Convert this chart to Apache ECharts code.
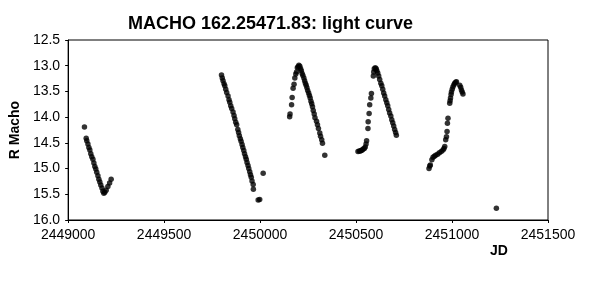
<!DOCTYPE html>
<html>
<head>
<meta charset="utf-8">
<script src="https://cdn.jsdelivr.net/npm/echarts@6/dist/echarts.min.js"></script>
<style>
html,body{margin:0;padding:0;background:#fff;}
#chart{width:589px;height:294px;}
</style>
</head>
<body>
<div id="chart"></div>
<script>
// Season 1
var s1Jd  = [2449085,2449094,2449097,2449103,2449108,2449113,2449118,2449123,2449129,2449134,2449139,2449144,2449149,2449155,2449160,2449165,2449170,2449176,2449181,2449186,2449191,2449198,2449207,2449216,2449224];
var s1Mag = [14.19,14.41,14.46,14.52,14.59,14.64,14.71,14.77,14.82,14.89,14.96,15.01,15.07,15.14,15.21,15.26,15.32,15.38,15.44,15.48,15.46,15.42,15.35,15.28,15.21];
// Season 2
var s2Jd  = [2449799,2449803,2449807,2449812,2449816,2449821,2449826,2449833,2449838,2449842,2449847,2449852,2449859,2449864,2449868,2449873,2449878,2449884,2449888,2449892,2449897,2449901,2449906,2449910,2449915,2449919,2449924,2449928,2449932,2449937,2449941,2449946,2449950,2449954,2449958,2449964,2449965,2449990,2449998,2450016];
var s2Mag = [13.18,13.24,13.29,13.35,13.39,13.46,13.52,13.59,13.66,13.71,13.78,13.83,13.90,13.97,14.03,14.10,14.15,14.24,14.30,14.36,14.42,14.47,14.53,14.59,14.65,14.71,14.77,14.82,14.88,14.94,15.00,15.06,15.12,15.17,15.24,15.31,15.40,15.61,15.60,15.09];
// Season 3
var s3Jd  = [2450154,2450156,2450164,2450167,2450172,2450177,2450181,2450186,2450190,2450194,2450198,2450202,2450207,2450211,2450215,2450219,2450223,2450228,2450232,2450236,2450240,2450244,2450248,2450253,2450257,2450261,2450265,2450269,2450273,2450277,2450282,2450286,2450294,2450299,2450304,2450311,2450315,2450321,2450325,2450337];
var s3Mag = [13.99,13.94,13.76,13.62,13.44,13.36,13.24,13.16,13.12,13.04,13.02,12.99,13.01,13.06,13.10,13.15,13.19,13.24,13.29,13.34,13.38,13.43,13.48,13.53,13.58,13.63,13.69,13.74,13.80,13.87,13.94,14.01,14.08,14.15,14.22,14.31,14.37,14.44,14.51,14.74];
// Season 4
var s4Jd  = [2450510,2450517,2450522,2450527,2450532,2450537,2450543,2450548,2450552,2450555,2450562,2450563,2450568,2450571,2450577,2450580,2450590,2450592,2450595,2450600,2450605,2450608,2450613,2450618,2450623,2450629,2450634,2450639,2450644,2450649,2450655,2450660,2450665,2450670,2450675,2450681,2450686,2450691,2450696,2450701,2450706,2450710];
var s4Mag = [14.67,14.66,14.66,14.65,14.64,14.62,14.61,14.58,14.52,14.46,14.22,14.09,13.93,13.76,13.63,13.54,13.20,13.12,13.06,13.04,13.06,13.10,13.14,13.20,13.27,13.34,13.39,13.46,13.53,13.59,13.66,13.72,13.78,13.85,13.92,13.98,14.05,14.11,14.17,14.24,14.30,14.35];
// Season 5
var s5Jd  = [2450880,2450884,2450887,2450895,2450901,2450908,2450915,2450925,2450934,2450944,2450953,2450958,2450962,2450967,2450971,2450974,2450976,2450979,2450988,2450990,2450992,2450995,2450997,2451001,2451005,2451010,2451014,2451019,2451023,2451040,2451045,2451049,2451053,2451057,2451231];
var s5Mag = [15.00,14.95,14.93,14.83,14.78,14.76,14.74,14.72,14.69,14.67,14.64,14.61,14.57,14.44,14.38,14.28,14.12,14.02,13.73,13.68,13.63,13.56,13.51,13.46,13.41,13.37,13.34,13.32,13.31,13.38,13.42,13.47,13.51,13.55,15.77];

var titleText = 'MACHO 162.25471.83: light curve';
var yName = 'R Macho';
var xName = 'JD';

function pairs(a, b) { return a.map(function (v, i) { return [v, b[i]]; }); }
var allPoints = [].concat(pairs(s1Jd, s1Mag), pairs(s2Jd, s2Mag), pairs(s3Jd, s3Mag), pairs(s4Jd, s4Mag), pairs(s5Jd, s5Mag));

var FONT = 'Liberation Sans, Arial, sans-serif';
var chart = echarts.init(document.getElementById('chart'), null, {renderer: 'canvas'});
chart.setOption({
  backgroundColor: '#ffffff',
  animation: false,
  title: {
    text: titleText,
    left: 123, top: 10,
    textStyle: {fontFamily: FONT, fontSize: 18, fontWeight: 'bold', color: '#000'}
  },
  grid: {
    left: 68, right: 41, top: 40, bottom: 74,
    show: true, borderColor: '#000', borderWidth: 1, backgroundColor: 'transparent'
  },
  xAxis: {
    type: 'value', min: 2449000, max: 2451500, interval: 500,
    axisLine: {show: true, lineStyle: {color: '#000', width: 1}},
    axisTick: {show: true, length: 3, lineStyle: {color: '#000'}},
    splitLine: {show: false},
    axisLabel: {color: '#000', fontFamily: FONT, fontSize: 14, margin: 8,
      formatter: function (v) { return String(v); }}
  },
  yAxis: {
    type: 'value', inverse: true, min: 12.5, max: 16.0, interval: 0.5,
    name: yName, nameLocation: 'middle', nameRotate: 90, nameGap: 43,
    nameTextStyle: {fontFamily: FONT, fontSize: 14, fontWeight: 'bold', color: '#000'},
    axisLine: {show: true, lineStyle: {color: '#000', width: 1}},
    axisTick: {show: true, length: 3, lineStyle: {color: '#000'}},
    splitLine: {show: false},
    axisLabel: {color: '#000', fontFamily: FONT, fontSize: 14, margin: 8,
      formatter: function (v) { return v.toFixed(1); }}
  },
  graphic: [{
    type: 'text', x: 499, y: 251,
    style: {text: xName, fill: '#000', font: 'bold 14px ' + FONT, textAlign: 'center', textVerticalAlign: 'middle'}
  }],
  series: [{
    type: 'scatter',
    data: allPoints,
    symbol: 'circle',
    symbolSize: 5.5,
    itemStyle: {color: '#000'}
  }]
});
</script>
</body>
</html>
